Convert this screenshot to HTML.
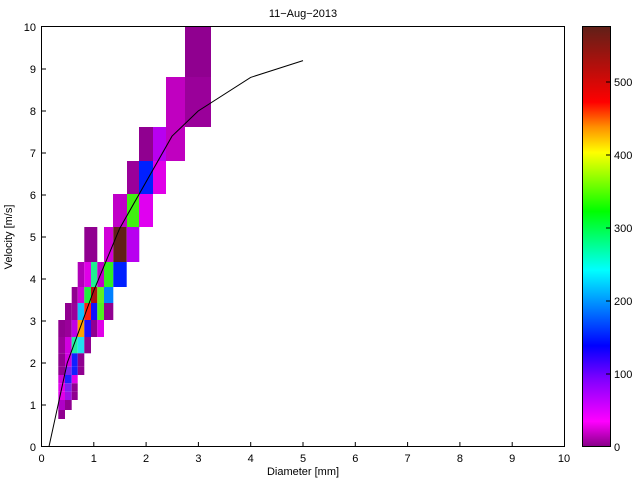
<!DOCTYPE html>
<html><head><meta charset="utf-8"><style>
html,body{margin:0;padding:0;background:#fff;}
svg{display:block;font-family:"Liberation Sans",sans-serif;}
</style></head><body>
<svg width="640" height="480" viewBox="0 0 640 480" xmlns="http://www.w3.org/2000/svg">
<defs>
<linearGradient id="cb" x1="0" y1="1" x2="0" y2="0">
<stop offset="0" stop-color="#880088"/>
<stop offset="0.06" stop-color="#ff00ff"/>
<stop offset="0.16" stop-color="#8000ff"/>
<stop offset="0.24" stop-color="#0000ff"/>
<stop offset="0.42" stop-color="#00ffff"/>
<stop offset="0.56" stop-color="#00ff00"/>
<stop offset="0.70" stop-color="#ffff00"/>
<stop offset="0.76" stop-color="#ff9000"/>
<stop offset="0.82" stop-color="#ff0000"/>
<stop offset="1" stop-color="#602018"/>
</linearGradient>
</defs>
<rect x="0" y="0" width="640" height="480" fill="#fff"/>
<g stroke="none">
<!-- top cells -->
<rect x="185" y="26" width="26" height="51" fill="#900090"/>
<rect x="166" y="77" width="19" height="50" fill="#c000c0"/>
<rect x="185" y="77" width="26" height="50" fill="#9a009a"/>
<rect x="139" y="127" width="14" height="34" fill="#900090"/>
<rect x="153" y="127" width="13" height="34" fill="#b800f0"/>
<rect x="166" y="127" width="19" height="34" fill="#c000c0"/>
<rect x="127" y="161" width="12" height="33" fill="#9a009a"/>
<rect x="139" y="161" width="14" height="33" fill="#0020ff"/>
<rect x="153" y="161" width="13" height="33" fill="#e000e8"/>
<rect x="113" y="194" width="14" height="33" fill="#c000c8"/>
<rect x="127" y="194" width="12" height="33" fill="#40f010"/>
<rect x="139" y="194" width="14" height="33" fill="#e000f0"/>
<!-- R5 227-262 -->
<rect x="84.3" y="227" width="13" height="35" fill="#900090"/>
<rect x="104" y="227" width="9.3" height="35" fill="#d000d8"/>
<rect x="113.3" y="227" width="13.4" height="35" fill="#602018"/>
<rect x="126.7" y="227" width="12.6" height="35" fill="#b800f0"/>
<!-- R6 262-287 -->
<rect x="77.7" y="262" width="6.6" height="25" fill="#b000b8"/>
<rect x="84.3" y="262" width="6.7" height="25" fill="#e000e8"/>
<rect x="91" y="262" width="6.3" height="25" fill="#20f090"/>
<rect x="97.3" y="262" width="6.7" height="25" fill="#c000c8"/>
<rect x="104" y="262" width="9.3" height="25" fill="#30f020"/>
<rect x="113.3" y="262" width="13.4" height="25" fill="#0020ff"/>
<!-- R7 287-303 -->
<rect x="71.7" y="287" width="6" height="16" fill="#900090"/>
<rect x="77.7" y="287" width="6.6" height="16" fill="#d000d8"/>
<rect x="84.3" y="287" width="6.7" height="16" fill="#20f040"/>
<rect x="91" y="287" width="6.3" height="16" fill="#b01010"/>
<rect x="97.3" y="287" width="6.7" height="16" fill="#60f020"/>
<rect x="104" y="287" width="9.3" height="16" fill="#0080ff"/>
<!-- R8 303-320 -->
<rect x="65" y="303" width="6.7" height="17" fill="#900090"/>
<rect x="71.7" y="303" width="6" height="17" fill="#9a009a"/>
<rect x="77.7" y="303" width="6.6" height="17" fill="#10c0ff"/>
<rect x="84.3" y="303" width="6.7" height="17" fill="#ff2010"/>
<rect x="91" y="303" width="6.3" height="17" fill="#1010ff"/>
<rect x="97.3" y="303" width="6.7" height="17" fill="#50f020"/>
<rect x="104" y="303" width="9.3" height="17" fill="#900090"/>
<!-- R9 320-337 -->
<rect x="58.3" y="320" width="6.7" height="17" fill="#900090"/>
<rect x="65" y="320" width="6.7" height="17" fill="#9a009a"/>
<rect x="71.7" y="320" width="6" height="17" fill="#c000e8"/>
<rect x="77.7" y="320" width="6.6" height="17" fill="#ffa000"/>
<rect x="84.3" y="320" width="6.7" height="17" fill="#2010ff"/>
<rect x="91" y="320" width="6.3" height="17" fill="#900090"/>
<rect x="97.3" y="320" width="6.7" height="17" fill="#e000e8"/>
<!-- R10 337-353 -->
<rect x="58.3" y="337" width="6.7" height="16.3" fill="#9a009a"/>
<rect x="65" y="337" width="6.7" height="16.3" fill="#d000e0"/>
<rect x="71.7" y="337" width="6" height="16.3" fill="#20f0a0"/>
<rect x="77.7" y="337" width="6.6" height="16.3" fill="#20e0f0"/>
<rect x="84.3" y="337" width="6.7" height="16.3" fill="#900090"/>
<!-- R11 353-367 -->
<rect x="58.3" y="353.3" width="6.7" height="13.4" fill="#900090"/>
<rect x="65" y="353.3" width="6.7" height="13.4" fill="#d000e0"/>
<rect x="71.7" y="353.3" width="6" height="13.4" fill="#1020ff"/>
<rect x="77.7" y="353.3" width="6.6" height="13.4" fill="#900090"/>
<!-- R12 -->
<rect x="58.3" y="366.7" width="6.7" height="8.3" fill="#900090"/>
<rect x="65" y="366.7" width="6.7" height="8.3" fill="#8020f0"/>
<rect x="71.7" y="366.7" width="6" height="8.3" fill="#1020ff"/>
<rect x="77.7" y="366.7" width="6.6" height="8.3" fill="#900090"/>
<!-- R13 -->
<rect x="58.3" y="375" width="6.7" height="8.3" fill="#d000d8"/>
<rect x="65" y="375" width="6.7" height="8.3" fill="#2020ff"/>
<rect x="71.7" y="375" width="6" height="8.3" fill="#e000e8"/>
<!-- R14 -->
<rect x="58.3" y="383.3" width="6.7" height="8.4" fill="#e000e8"/>
<rect x="65" y="383.3" width="6.7" height="8.4" fill="#8020f0"/>
<rect x="71.7" y="383.3" width="6" height="8.4" fill="#900090"/>
<!-- R15 -->
<rect x="58.3" y="391.7" width="6.7" height="8.3" fill="#e000e8"/>
<rect x="65" y="391.7" width="6.7" height="8.3" fill="#a010e8"/>
<rect x="71.7" y="391.7" width="6" height="8.3" fill="#900090"/>
<!-- R16 -->
<rect x="58.3" y="400" width="6.7" height="10" fill="#b000c8"/>
<rect x="65" y="400" width="6.7" height="10" fill="#900090"/>
<!-- R17 -->
<rect x="58.3" y="410" width="6.7" height="9" fill="#900090"/>
</g>
<!-- curve -->
<polyline fill="none" stroke="#000" stroke-width="1" points="48.9,447 67.2,363 93.4,291.6 119.6,228.6 145.8,182.4 172,136.2 198.2,111 250.6,77.4 303,60.6"/>
<!-- axes box -->
<rect x="41.5" y="26.5" width="523" height="420" fill="none" stroke="#000" stroke-width="1"/>
<g stroke="#000" stroke-width="1">
<line x1="93.8" y1="447" x2="93.8" y2="442"/><line x1="146.1" y1="447" x2="146.1" y2="442"/>
<line x1="198.4" y1="447" x2="198.4" y2="442"/><line x1="250.7" y1="447" x2="250.7" y2="442"/>
<line x1="303" y1="447" x2="303" y2="442"/><line x1="355.3" y1="447" x2="355.3" y2="442"/>
<line x1="407.6" y1="447" x2="407.6" y2="442"/><line x1="459.9" y1="447" x2="459.9" y2="442"/>
<line x1="512.2" y1="447" x2="512.2" y2="442"/>
<line x1="41" y1="405" x2="46" y2="405"/><line x1="41" y1="363" x2="46" y2="363"/>
<line x1="41" y1="321" x2="46" y2="321"/><line x1="41" y1="279" x2="46" y2="279"/>
<line x1="41" y1="237" x2="46" y2="237"/><line x1="41" y1="195" x2="46" y2="195"/>
<line x1="41" y1="153" x2="46" y2="153"/><line x1="41" y1="111" x2="46" y2="111"/>
<line x1="41" y1="69" x2="46" y2="69"/>
</g>
<g font-size="11" fill="#000" text-anchor="middle">
<text x="41.5" y="462">0</text><text x="93.8" y="462">1</text><text x="146.1" y="462">2</text>
<text x="198.4" y="462">3</text><text x="250.7" y="462">4</text><text x="303" y="462">5</text>
<text x="355.3" y="462">6</text><text x="407.6" y="462">7</text><text x="459.9" y="462">8</text>
<text x="512.2" y="462">9</text><text x="564" y="462">10</text>
<text x="303" y="475">Diameter [mm]</text>
<text x="303" y="17">11−Aug−2013</text>
</g>
<g font-size="11" fill="#000" text-anchor="end">
<text x="36" y="451">0</text><text x="36" y="409">1</text><text x="36" y="367">2</text>
<text x="36" y="325">3</text><text x="36" y="283">4</text><text x="36" y="241">5</text>
<text x="36" y="199">6</text><text x="36" y="157">7</text><text x="36" y="115">8</text>
<text x="36" y="73">9</text><text x="36" y="31">10</text>
</g>
<text x="12" y="237" font-size="11" text-anchor="middle" transform="rotate(-90 12 237)">Velocity [m/s]</text>
<!-- colorbar -->
<rect x="582.5" y="26.5" width="28" height="420" fill="url(#cb)" stroke="#000" stroke-width="1"/>
<g stroke="#000" stroke-width="1">
<line x1="606" y1="374" x2="611" y2="374"/><line x1="606" y1="301" x2="611" y2="301"/>
<line x1="606" y1="228" x2="611" y2="228"/><line x1="606" y1="155" x2="611" y2="155"/>
<line x1="606" y1="82" x2="611" y2="82"/>
</g>
<g font-size="11" fill="#000">
<text x="614" y="451">0</text><text x="614" y="378">100</text><text x="614" y="305">200</text>
<text x="614" y="232">300</text><text x="614" y="159">400</text><text x="614" y="86">500</text>
</g>
</svg>
</body></html>
